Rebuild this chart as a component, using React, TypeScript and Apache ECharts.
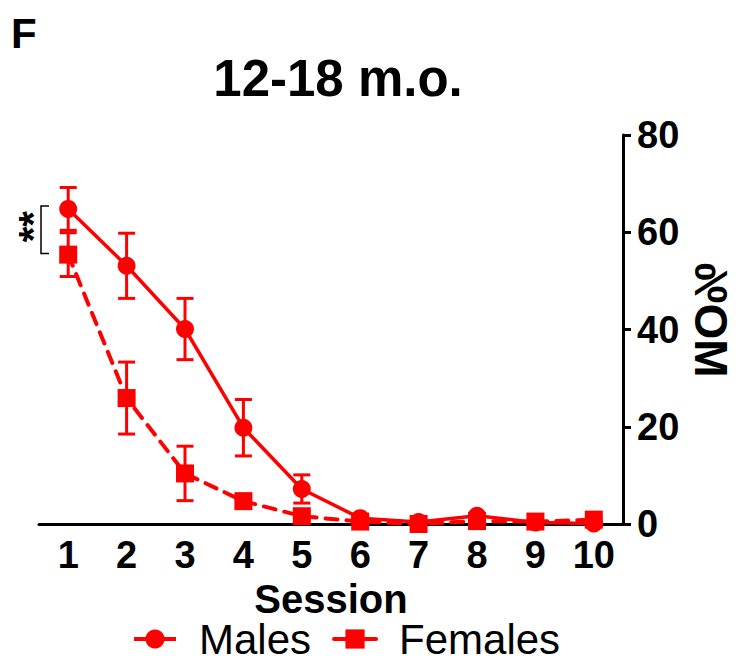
import React, { useEffect, useRef } from "react";
import * as echarts from "echarts";

const categories = ["1", "2", "3", "4", "5", "6", "7", "8", "9", "10"];
const maleMean = [64.8, 53.1, 40.1, 19.8, 7.2, 1.2, 0.4, 1.7, 0.3, 0.1];
const maleSem = [4.4, 6.7, 6.3, 5.8, 2.9, 0.6, 0.3, 0.5, 0.3, 0.2];
const femaleMean = [55.4, 25.9, 10.4, 4.7, 1.6, 0.5, 0.0, 0.6, 0.5, 0.9];
const femaleSem = [4.5, 7.4, 5.6, 1.2, 1.0, 0.3, 0.0, 0.3, 0.3, 0.3];
const yMin = 0;
const yMax = 80;
const yInterval = 20;

const RED = "#ff0000";
const FONT = "'Liberation Sans', Arial, Helvetica, sans-serif";

function errorSeries(name: string, mean: number[], sem: number[]) {
  return {
    type: "custom",
    name: name + " SEM",
    silent: true,
    z: 1,
    data: mean.map((m, i) => [i, m - sem[i], m + sem[i]]),
    encode: { x: 0, y: [1, 2] },
    renderItem: (params: any, api: any) => {
      const lo = api.coord([api.value(0), api.value(1)]);
      const hi = api.coord([api.value(0), api.value(2)]);
      const hw = 8.5;
      const st = { stroke: RED, lineWidth: 3 };
      return {
        type: "group",
        children: [
          { type: "line", shape: { x1: lo[0], y1: lo[1], x2: hi[0], y2: hi[1] }, style: st },
          { type: "line", shape: { x1: lo[0] - hw, y1: lo[1], x2: lo[0] + hw, y2: lo[1] }, style: st },
          { type: "line", shape: { x1: hi[0] - hw, y1: hi[1], x2: hi[0] + hw, y2: hi[1] }, style: st },
        ],
      };
    },
  };
}

export default function App() {
  const ref = useRef<HTMLDivElement>(null);
  useEffect(() => {
    if (!ref.current) return;
    const chart = echarts.init(ref.current, null, { renderer: "svg" });
    const option: any = {
      animation: false,
      backgroundColor: "#ffffff",
      title: {
        text: "12-18 m.o.",
        left: 333,
        textAlign: "center",
        top: 48,
        textStyle: { fontFamily: FONT, fontSize: 51, fontWeight: "bold", color: "#000" },
      },
      grid: { left: 39, right: 126, top: 135, bottom: 138 },
      legend: {
        left: 127,
        top: 613,
        itemWidth: 42,
        itemHeight: 24,
        itemGap: 21,
        textStyle: { fontFamily: FONT, fontSize: 42, color: "#000", padding: [0, 0, 0, 18] },
        data: [
          { name: "Males", lineStyle: { type: "solid", width: 4 } },
          { name: "Females", lineStyle: { type: "solid", width: 4 } },
        ],
      },
      xAxis: {
        type: "category",
        data: categories,
        boundaryGap: true,
        name: "Session",
        nameLocation: "middle",
        nameGap: 52,
        nameTextStyle: { fontFamily: FONT, fontSize: 40, fontWeight: "bold", color: "#000" },
        axisLine: { lineStyle: { color: "#000", width: 3 } },
        axisTick: { alignWithLabel: true, length: 7, lineStyle: { color: "#000", width: 3 } },
        axisLabel: { fontFamily: FONT, fontSize: 38, fontWeight: "bold", color: "#000", margin: 12 },
        splitLine: { show: false },
      },
      yAxis: {
        type: "value",
        position: "right",
        min: yMin,
        max: yMax,
        interval: yInterval,
        axisLine: { show: true, lineStyle: { color: "#000", width: 3 } },
        axisTick: { show: true, length: 8, lineStyle: { color: "#000", width: 3 } },
        axisLabel: { fontFamily: FONT, fontSize: 38, fontWeight: "bold", color: "#000", margin: 14 },
        splitLine: { show: false },
      },
      series: [
        errorSeries("Males", maleMean, maleSem),
        errorSeries("Females", femaleMean, femaleSem),
        {
          name: "Males",
          type: "line",
          data: maleMean,
          symbol: "circle",
          symbolSize: 18,
          z: 3,
          itemStyle: { color: RED },
          lineStyle: { color: RED, width: 3.5 },
        },
        {
          name: "Females",
          type: "line",
          data: femaleMean,
          symbol: "rect",
          symbolSize: 18,
          z: 3,
          itemStyle: { color: RED },
          lineStyle: { color: RED, width: 4, type: [12, 9], cap: "round" },
        },
      ],
    };
    chart.setOption(option);

    const pM = chart.convertToPixel({ gridIndex: 0 }, [0, maleMean[0]]) as number[];
    const pF = chart.convertToPixel({ gridIndex: 0 }, [0, femaleMean[0]]) as number[];
    const p1 = chart.convertToPixel({ gridIndex: 0 }, [1, 0]) as number[];
    const band = p1[0] - pM[0];
    const bx = pM[0] - band / 2 + 2;
    const yTop = pM[1] - 3;
    const yBot = pF[1] - 1;
    chart.setOption({
      graphic: [
        {
          type: "text",
          left: 11,
          top: 12,
          style: { text: "F", fontFamily: FONT, fontSize: 42, fontWeight: "bold", fill: "#000" },
        },
        {
          type: "polyline",
          shape: { points: [[bx + 8, yTop], [bx, yTop], [bx, yBot], [bx + 8, yBot]] },
          style: { stroke: "#000", lineWidth: 1.5, fill: null },
        },
        {
          type: "text",
          x: bx - 8,
          y: (yTop + yBot) / 2 - 3,
          rotation: Math.PI / 2,
          style: {
            text: "**",
            fontFamily: FONT,
            fontSize: 40,
            fontWeight: "bold",
            fill: "#000",
            align: "center",
            verticalAlign: "middle",
          },
        },
        {
          type: "text",
          x: 711,
          y: 320,
          rotation: Math.PI / 2,
          scaleY: -1,
          style: {
            text: "MO%",
            fontFamily: FONT,
            fontSize: 46,
            fontWeight: "bold",
            fill: "#000",
            align: "center",
            verticalAlign: "middle",
          },
        },
      ],
    });
    return () => chart.dispose();
  }, []);
  return (
    <div
      ref={ref}
      style={{ position: "absolute", left: 0, top: 0, width: 749, height: 662, background: "#fff" }}
    />
  );
}
